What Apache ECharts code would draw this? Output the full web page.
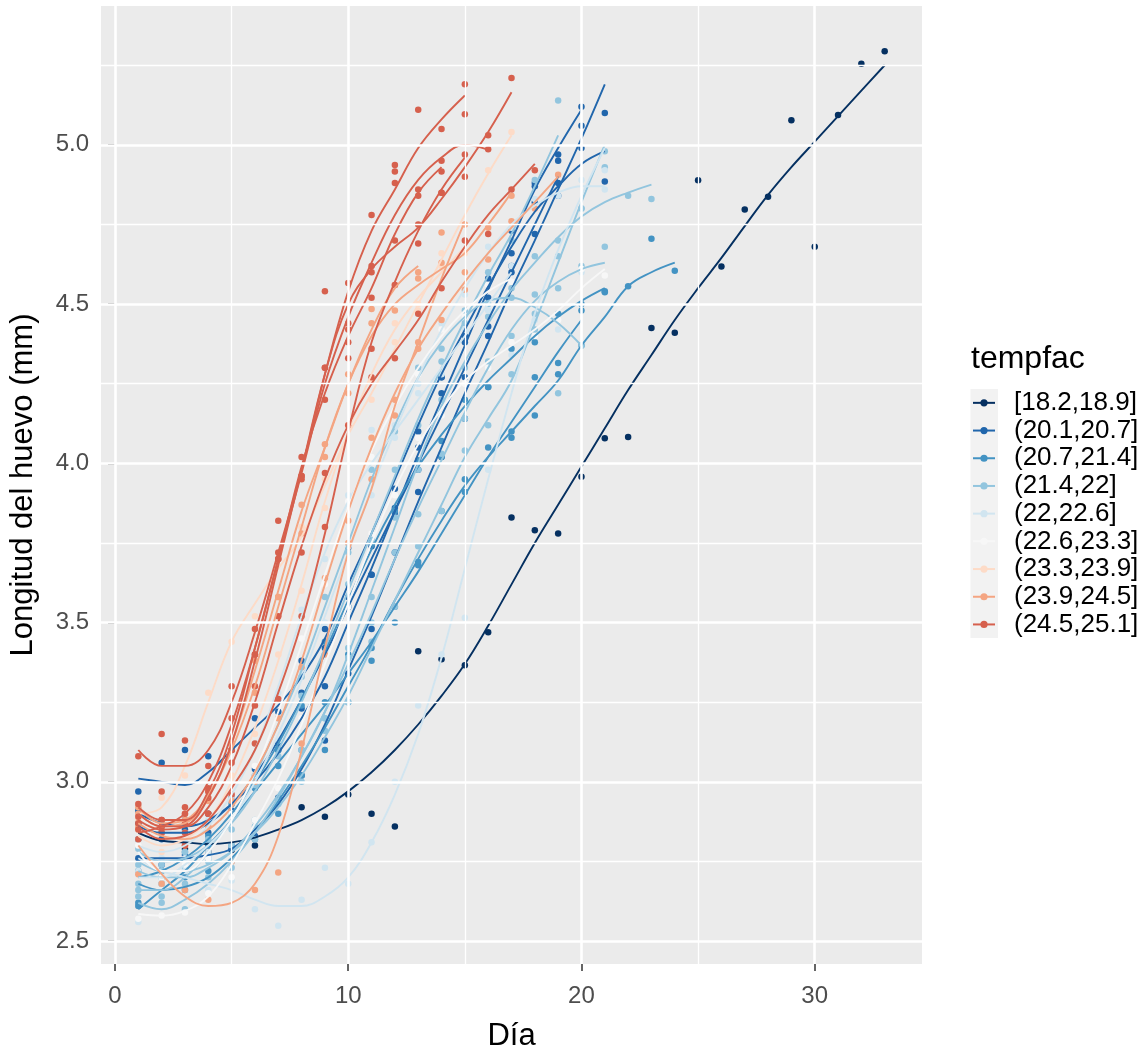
<!DOCTYPE html>
<html><head><meta charset="utf-8">
<script src="https://cdn.jsdelivr.net/npm/echarts@6/dist/echarts.min.js"></script>
<style>html,body{margin:0;padding:0;background:#fff}#c{width:1146px;height:1057px}</style>
</head><body><div id="c"></div>
<script>
// ---- legend / groups ----
const groupNames = ['[18.2,18.9]','(20.1,20.7]','(20.7,21.4]','(21.4,22]','(22,22.6]','(22.6,23.3]','(23.3,23.9]','(23.9,24.5]','(24.5,25.1]'];
const groupColors = ['#053061','#2166ac','#4393c3','#92c5de','#d1e5f0','#f7f7f7','#fddbc7','#f4a582','#d6604d'];
const xTicks = [0,10,20,30];
const xMinor = [5,15,25];
const yTicks = [2.5,3.0,3.5,4.0,4.5,5.0];
const yMinor = [2.75,3.25,3.75,4.25,4.75,5.25];

// ---- [18.2,18.9] ----
const navyLines = [
 [2.84,2.815,2.81,2.805,2.81,2.825,2.85,2.88,2.92,2.97,3.03,3.10,3.18,3.27,3.37,3.49,3.62,3.75,3.87,3.99,4.11,4.23,4.34,4.45,4.55,4.645,4.745,4.843,4.93,5.01,5.09,5.17,5.25]
];
const navyPts = [
 [2.82,null,2.79,2.78,2.786,2.80,null,2.92,2.89,2.96,2.90,2.86,3.41,3.385,3.366,3.47,3.83,3.79,3.78,3.958,4.079,4.083,4.425,4.41,4.889,4.618,4.797,4.837,5.077,4.68,5.094,5.255,5.294]
];
// ---- (20.1,20.7] ----
const blueLines = [
 [3.01,3.00,2.99,3.03,3.10,3.17,3.24,3.33,3.45,3.62,3.78,3.95,4.12,4.28,4.42,4.555,4.68,4.79,4.87,4.94,4.98],
 [2.90,2.87,2.86,2.88,2.93,3.00,3.09,3.20,3.33,3.50,3.67,3.85,4.03,4.20,4.37,4.545,4.70,4.86,4.99,5.11],
 [2.76,2.76,2.76,2.77,2.79,2.85,2.93,3.04,3.18,3.35,3.52,3.70,3.88,4.05,4.22,4.38,4.545,4.70,4.86,5.02,5.19],
 [2.86,2.84,2.84,2.87,2.93,3.02,3.13,3.26,3.40,3.55,3.70,3.85,4.00,4.15,4.30,4.45,4.60,4.75,4.90]
];
const bluePts = [
 [2.97,3.06,3.10,3.08,3.10,3.20,3.22,3.38,3.48,3.58,3.74,3.92,4.10,4.27,4.40,4.58,4.66,4.82,4.88,4.99,4.885],
 [2.91,2.86,2.88,2.84,2.95,2.99,3.12,3.23,3.30,3.55,3.65,3.86,4.05,4.22,4.38,4.52,4.73,4.88,4.97,5.12],
 [2.76,2.74,2.77,2.80,2.79,2.83,2.95,3.02,3.13,3.34,3.48,3.72,3.91,4.02,4.14,4.40,4.60,4.72,4.84,5.06,5.10],
 [2.87,2.82,2.85,2.90,2.91,3.04,3.10,3.28,3.42,3.735,3.65,3.845,3.98,4.27,4.27,4.43,4.62,4.87,4.95]
];
// ---- (20.7,21.4] ----
const midLines = [
 [2.68,2.66,2.67,2.70,2.76,2.84,2.94,3.05,3.17,3.30,3.43,3.57,3.70,3.82,3.93,4.02,4.10,4.18,4.26,4.37,4.46,4.556,4.60,4.63],
 [2.60,2.66,2.72,2.80,2.88,2.97,3.06,3.15,3.24,3.34,3.44,3.55,3.66,3.78,3.90,4.02,4.13,4.24,4.35,4.45],
 [2.70,2.72,2.76,2.82,2.90,3.00,3.12,3.26,3.41,3.57,3.73,3.87,3.99,4.09,4.18,4.26,4.33,4.40,4.46,4.51,4.55]
];
const midPts = [
 [2.62,2.70,2.66,2.72,2.80,2.82,2.90,3.02,3.10,3.25,3.38,3.55,3.69,3.85,3.95,4.05,4.08,4.15,4.28,4.37,4.54,4.556,4.705,4.605],
 [2.61,2.72,2.70,2.83,2.90,2.98,3.05,3.10,3.25,3.40,3.42,3.50,3.68,4.02,3.91,4.24,4.10,4.27,4.315,4.50],
 [2.72,2.68,2.78,2.80,2.93,3.02,3.10,3.24,3.44,3.55,3.75,3.85,4.01,4.07,4.20,4.24,4.36,4.38,4.47,4.48,4.537]
];
// ---- (21.4,22] ----
const skyLines = [
 [2.72,2.70,2.70,2.73,2.78,2.86,2.96,3.08,3.22,3.40,3.60,3.80,4.00,4.18,4.32,4.44,4.545,4.63,4.71,4.775,4.82,4.85,4.875],
 [2.66,2.66,2.70,2.78,2.88,3.02,3.18,3.35,3.55,3.75,3.95,4.12,4.27,4.38,4.46,4.51,4.52,4.49,4.44,4.37],
 [2.78,2.75,2.76,2.80,2.87,2.97,3.10,3.25,3.42,3.60,3.78,3.96,4.14,4.30,4.45,4.59,4.72,4.87,5.03],
 [2.62,2.60,2.63,2.68,2.75,2.84,2.95,3.08,3.22,3.37,3.53,3.70,3.86,4.01,4.16,4.30,4.42,4.51,4.57,4.61,4.63],
 [2.75,2.72,2.72,2.74,2.78,2.84,2.92,3.02,3.14,3.27,3.42,3.57,3.72,3.87,4.02,4.14,4.26,4.44,4.63,4.82,5.00]
];
const skyPts = [
 [2.66,2.72,2.68,2.76,2.75,2.88,2.94,3.10,3.20,3.42,3.58,3.83,3.98,4.20,4.30,4.46,4.52,4.65,4.70,4.80,4.93,4.84,4.83],
 [2.68,2.64,2.72,2.75,2.90,3.00,3.20,3.33,3.58,3.72,3.98,4.10,4.30,4.36,4.48,4.50,4.55,4.47,4.22,4.37],
 [2.79,2.74,2.78,2.82,2.85,2.99,3.08,3.27,3.40,3.62,3.76,3.98,4.12,4.32,4.44,4.60,4.70,4.89,5.139],
 [2.64,2.62,2.60,2.70,2.73,2.86,2.93,3.10,3.20,3.39,3.50,3.72,3.84,4.03,4.14,4.32,4.40,4.53,4.55,4.62,4.68],
 [2.74,2.70,2.73,2.76,2.80,2.82,2.94,3.00,3.16,3.25,3.44,3.55,3.74,3.85,4.04,4.12,4.28,4.42,4.65,4.80,4.98]
];
// ---- (22,22.6] ----
const paleLines = [
 [2.76,2.72,2.70,2.68,2.66,2.63,2.61,2.61,2.64,2.70,2.81,2.96,3.15,3.39,3.67,3.95,4.22,4.47,4.67,4.84,4.99],
 [2.70,2.70,2.74,2.80,2.88,3.00,3.15,3.32,3.52,3.72,3.92,4.10,4.27,4.42,4.55,4.66,4.75,4.81,4.85,4.87,4.87],
 [2.80,2.78,2.80,2.86,2.96,3.10,3.30,3.52,3.72,3.88,4.00,4.10,4.20,4.30,4.40,4.50,4.60]
];
const palePts = [
 [2.56,2.70,2.72,2.66,2.69,2.60,2.548,2.63,2.73,2.68,2.81,3.00,3.24,3.40,3.515,3.98,4.34,4.45,4.42,4.60,4.92],
 [2.72,2.68,2.76,2.78,2.90,3.02,3.13,3.35,3.50,3.74,3.90,4.12,4.25,4.44,4.53,4.68,4.74,4.83,4.84,4.89,4.86],
 [2.82,2.76,2.81,2.88,2.95,3.12,3.28,3.54,3.70,3.90,4.105,4.08,4.22,4.28,4.42,4.48,4.62]
];
// ---- (22.6,23.3] ----
const whiteLines = [
 [2.585,2.58,2.595,2.64,2.74,2.87,3.01,3.18,3.37,3.56,3.75,3.92,4.06,4.17,4.26,4.32,4.37,4.42,4.48,4.55,4.61],
 [2.78,2.72,2.72,2.78,2.88,3.03,3.22,3.43,3.65,3.86,4.04,4.18,4.30,4.40,4.48,4.54,4.58]
];
const whitePts = [
 [2.57,2.58,2.59,2.65,2.70,2.88,2.98,3.20,3.40,3.55,3.78,3.90,4.08,4.15,4.25,4.30,4.38,4.40,4.45,4.61,4.59],
 [2.80,2.70,2.74,2.76,2.90,3.05,3.20,3.45,3.62,3.88,4.02,4.20,4.28,4.42,4.46,4.56,4.57]
];
// ---- (23.3,23.9] ----
const peachLines = [
 [2.90,2.92,3.05,3.25,3.44,3.56,3.67,3.77,3.93,4.09,4.22,4.36,4.50,4.64,4.78,4.91,5.03],
 [2.83,2.80,2.82,2.88,3.00,3.17,3.38,3.62,3.88,4.10,4.28,4.42,4.52,4.60,4.68]
];
const peachPts = [
 [2.88,2.95,3.02,3.28,3.44,3.52,3.70,3.80,3.95,4.12,4.20,4.38,4.48,4.66,4.90,4.92,5.04],
 [2.85,2.78,2.84,2.86,3.02,3.15,3.40,3.60,3.86,4.12,4.26,4.44,4.50,4.62,4.66]
];
// ---- (23.9,24.5] ----
const salmonLines = [
 [2.80,2.71,2.64,2.61,2.62,2.68,2.83,3.10,3.42,3.72,3.92,4.18,4.38,4.58,4.76],
 [2.92,2.87,2.88,2.96,3.10,3.30,3.55,3.80,4.05,4.25,4.40,4.50,4.56,4.61,4.66,4.75,4.85],
 [2.87,2.83,2.82,2.85,2.92,3.03,3.18,3.38,3.62,3.85,4.05,4.22,4.36,4.47,4.57,4.66,4.74,4.82,4.90],
 [2.90,2.86,2.87,2.95,3.12,3.35,3.60,3.85,4.05,4.25,4.42,4.55,4.62]
];
const salmonPts = [
 [2.71,2.68,2.66,2.63,2.75,2.66,2.715,3.12,3.40,3.75,3.95,4.15,4.36,4.63,4.75],
 [2.90,2.85,2.90,2.94,3.12,3.28,3.58,3.78,4.02,4.28,4.485,4.48,4.58,4.725,4.545,4.74,4.84],
 [2.86,2.84,2.80,2.86,2.94,3.00,3.20,3.36,3.64,3.82,4.08,4.20,4.38,4.45,4.60,4.64,4.76,4.80,4.906],
 [2.92,2.84,2.88,2.97,3.10,3.38,3.58,3.87,4.06,4.22,4.44,4.56,4.60]
];
// ---- (24.5,25.1] ----
const redLines = [
 [3.10,3.05,3.05,3.10,3.25,3.47,3.72,3.98,4.28,4.54,4.73,4.86,4.99,5.08,5.155],
 [2.92,2.88,2.88,2.97,3.15,3.42,3.70,3.97,4.25,4.46,4.63,4.78,4.89,4.96,5.00,4.985],
 [2.88,2.85,2.86,2.95,3.12,3.38,3.68,3.98,4.28,4.50,4.61,4.68,4.74,4.83,4.93,5.04,5.165],
 [2.86,2.82,2.83,2.88,2.98,3.10,3.28,3.50,3.78,4.10,4.38,4.57,4.73,4.86,4.96],
 [2.90,2.86,2.86,2.92,3.05,3.25,3.50,3.74,3.95,4.12,4.25,4.35,4.45,4.57,4.68,4.78,4.86,4.94],
 [2.84,2.86,2.90,3.00,3.18,3.42,3.70,3.99,4.22,4.40,4.55,4.72,4.85,4.93]
];
const redPts = [
 [3.08,3.15,3.13,3.05,3.30,3.48,3.70,4.02,4.30,4.566,4.78,4.88,5.11,5.05,5.19],
 [2.93,2.97,2.90,2.95,3.10,3.40,3.82,3.95,4.54,4.44,4.62,4.937,4.86,4.916,4.97,4.986],
 [2.87,2.86,2.84,2.97,3.10,3.30,3.70,3.96,4.30,4.38,4.60,4.70,4.69,4.85,4.90,5.03,5.21],
 [2.85,2.84,2.80,2.90,2.96,3.12,3.26,3.52,3.80,4.12,4.36,4.56,4.75,4.85,5.096],
 [2.89,2.88,2.87,2.90,3.06,3.24,3.52,3.72,3.97,4.33,4.27,4.33,4.47,4.55,4.70,4.72,4.86,4.92],
 [2.82,2.88,2.92,2.98,3.20,3.40,3.72,3.96,4.20,4.42,4.52,4.916,4.84,4.95]
];

// ---- build ----
const FONT = '"Liberation Sans", Arial, sans-serif';
const groupLines = [navyLines, blueLines, midLines, skyLines, paleLines, whiteLines, peachLines, salmonLines, redLines];
const groupPts = [navyPts, bluePts, midPts, skyPts, palePts, whitePts, peachPts, salmonPts, redPts];

const toXY = arr => arr.map((v, i) => v == null ? null : [i + 1, v]).filter(p => p);

const series = [];
// white gridlines drawn through the axes' scales
series.push({
  type: 'line', name: 'gridMinor', data: [], z: 1, silent: true,
  markLine: { silent: true, symbol: 'none', label: { show: false }, animation: false,
    lineStyle: { color: '#ffffff', width: 1.3, type: 'solid' },
    emphasis: { disabled: true },
    data: xMinor.map(v => ({ xAxis: v })).concat(yMinor.map(v => ({ yAxis: v }))) }
});
series.push({
  type: 'line', name: 'gridMajor', data: [], z: 1, silent: true,
  markLine: { silent: true, symbol: 'none', label: { show: false }, animation: false,
    lineStyle: { color: '#ffffff', width: 2.6, type: 'solid' },
    emphasis: { disabled: true },
    data: xTicks.map(v => ({ xAxis: v })).concat(yTicks.map(v => ({ yAxis: v }))) }
});
// smooth curves (one per egg)
groupLines.forEach((lines, g) => {
  lines.forEach(arr => {
    series.push({
      type: 'line', name: groupNames[g], data: toXY(arr), smooth: 0.4,
      showSymbol: false, symbol: 'circle', symbolSize: 5, z: 3,
      lineStyle: { color: groupColors[g], width: 1.9 },
      itemStyle: { color: groupColors[g] },
      emphasis: { disabled: true }, silent: true, animation: false
    });
  });
});
// observed points
groupPts.forEach((pts, g) => {
  pts.forEach(arr => {
    series.push({
      type: 'scatter', name: groupNames[g], data: toXY(arr), symbol: 'circle',
      symbolSize: 6.5, z: 2, itemStyle: { color: groupColors[g], opacity: 1 },
      emphasis: { disabled: true }, silent: true, animation: false
    });
  });
});

const chart = echarts.init(document.getElementById('c'), null, { renderer: 'canvas' });
chart.setOption({
  backgroundColor: '#ffffff',
  animation: false,
  textStyle: { fontFamily: FONT },
  grid: { left: 100, right: 224, top: 6, bottom: 92, show: true, backgroundColor: '#ebebeb', borderWidth: 0 },
  xAxis: {
    type: 'value', min: -0.6, max: 34.6,
    name: 'Día', nameLocation: 'middle', nameGap: 57,
    nameTextStyle: { fontSize: 31, color: '#000', fontFamily: FONT },
    axisLine: { show: false },
    axisTick: { show: true, length: 7, customValues: xTicks, lineStyle: { color: '#333333', width: 1.5 } },
    axisLabel: { customValues: xTicks, fontSize: 24, color: '#4d4d4d', margin: 20, fontFamily: FONT },
    splitLine: { show: false }, minorSplitLine: { show: false }
  },
  yAxis: {
    type: 'value', min: 2.428, max: 5.436,
    name: 'Longitud del huevo (mm)', nameLocation: 'middle', nameGap: 62, nameRotate: 90,
    nameTextStyle: { fontSize: 31, color: '#000', fontFamily: FONT },
    axisLine: { show: false },
    axisTick: { show: true, length: 7, customValues: yTicks, lineStyle: { color: '#333333', width: 1.5 } },
    axisLabel: { customValues: yTicks, fontSize: 24, color: '#4d4d4d', margin: 12, fontFamily: FONT,
      formatter: v => v.toFixed(1) },
    splitLine: { show: false }, minorSplitLine: { show: false }
  },
  legend: {
    orient: 'vertical', left: 972, top: 389, padding: 0, itemWidth: 22, itemHeight: 9, itemGap: 0,
    selectedMode: false, data: groupNames,
    textStyle: { fontSize: 26, lineHeight: 27.7, color: '#000', fontFamily: FONT, padding: [0, 0, 0, 14] }
  },
  graphic: [
    { type: 'rect', left: 970.5, top: 389, z: 0, silent: true,
      shape: { width: 27.5, height: 249 }, style: { fill: '#f2f2f2' } },
    { type: 'text', left: 971, top: 343, silent: true,
      style: { text: 'tempfac', font: '32px "Liberation Sans", Arial, sans-serif', fill: '#000' } }
  ],
  series: series
});
</script></body></html>
